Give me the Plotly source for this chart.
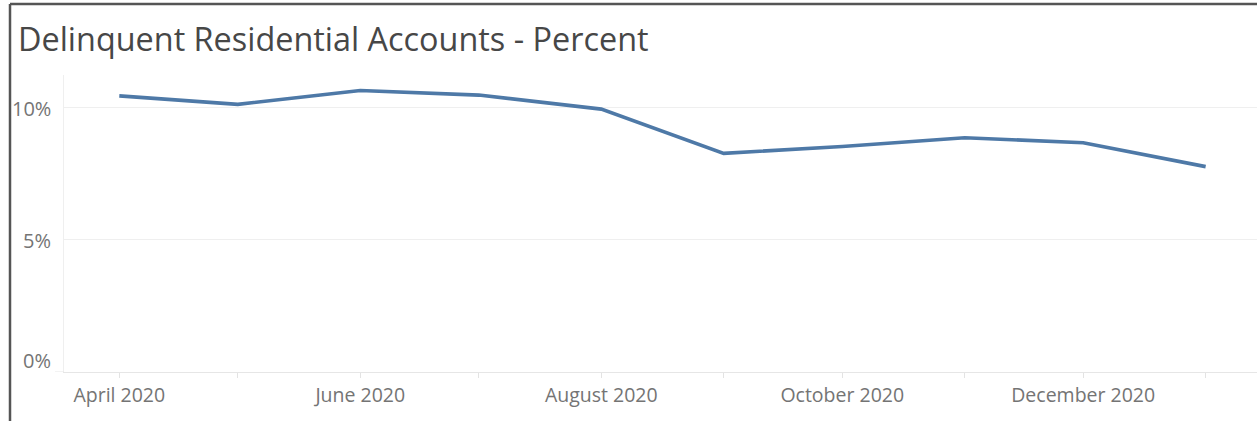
import plotly.graph_objects as go

months = ["2020-04-01", "2020-05-01", "2020-06-01", "2020-07-01", "2020-08-01",
          "2020-09-01", "2020-10-01", "2020-11-01", "2020-12-01", "2021-01-01"]
pct = [10.42, 10.10, 10.62, 10.45, 9.92, 8.25, 8.51, 8.84, 8.65, 7.75]

tick_dates = months
tick_labels = ["April 2020", "", "June 2020", "", "August 2020", "",
               "October 2020", "", "December 2020", ""]
y_ticks = [0, 5, 10]
y_labels = ["0%", "5%", "10%"]

W, H = 1257, 421
L, R, T, B = 64, 0, 75, 49
pw, ph = W - L - R, H - T - B

fig = go.Figure()
fig.add_trace(go.Scatter(
    x=months, y=pct, mode="lines",
    line=dict(color="#4e79a7", width=3.6),
    hoverinfo="skip",
))

font_fam = "Open Sans, Lato, sans-serif"
lab_col = "#747474"

annotations = []
for v, t in zip(y_ticks, y_labels):
    annotations.append(dict(
        x=(53 - L) / pw, xref="paper", xanchor="right",
        y=v, yref="y", yanchor="middle",
        yshift=12 if v == 0 else -1,
        text=t, showarrow=False,
        font=dict(family=font_fam, size=20, color=lab_col),
    ))

shapes = [
    # outer frame: top and left edges
    dict(type="line", xref="paper", yref="paper",
         x0=(10 - L) / pw, x1=1.01, y0=1 + (T - 4) / ph, y1=1 + (T - 4) / ph,
         line=dict(color="#555555", width=2.5)),
    dict(type="line", xref="paper", yref="paper",
         x0=(10 - L) / pw, x1=(10 - L) / pw, y0=1 + (T - 4) / ph, y1=-B / ph - 0.02,
         line=dict(color="#555555", width=2.5)),
    # baseline extension to the left
    dict(type="line", xref="paper", yref="y",
         x0=(55 - L) / pw, x1=0, y0=0, y1=0,
         line=dict(color="#e6e6e6", width=1)),
]

fig.update_layout(
    width=W, height=H,
    margin=dict(l=L, r=R, t=T, b=B),
    paper_bgcolor="white", plot_bgcolor="white",
    showlegend=False,
    title=dict(
        text="Delinquent Residential Accounts - Percent",
        x=18 / W, xref="container", xanchor="left",
        y=1 - 40 / H, yref="container", yanchor="middle",
        font=dict(family=font_fam, size=32.4, color="#474747"),
    ),
    xaxis=dict(
        type="date",
        range=["2020-03-18", "2021-01-14"],
        tickvals=tick_dates, ticktext=tick_labels,
        ticks="outside", ticklen=5, tickcolor="#e3e3e3", tickwidth=1,
        showgrid=False, zeroline=False,
        showline=True, linecolor="#e6e6e6", linewidth=1,
        tickfont=dict(family=font_fam, size=19.5, color=lab_col),
        ticklabelstandoff=1,
    ),
    yaxis=dict(
        range=[0, (372 - 75) / 26.5],
        tickvals=y_ticks, showticklabels=False,
        showgrid=True, gridcolor="#efefef", gridwidth=1,
        zeroline=False,
        showline=True, linecolor="#efefef", linewidth=1,
        ticks="",
    ),
    annotations=annotations,
    shapes=shapes,
)

fig.write_html("out.html", config={"displayModeBar": False},
               post_script="document.body.style.margin='0';document.body.style.padding='0';")
